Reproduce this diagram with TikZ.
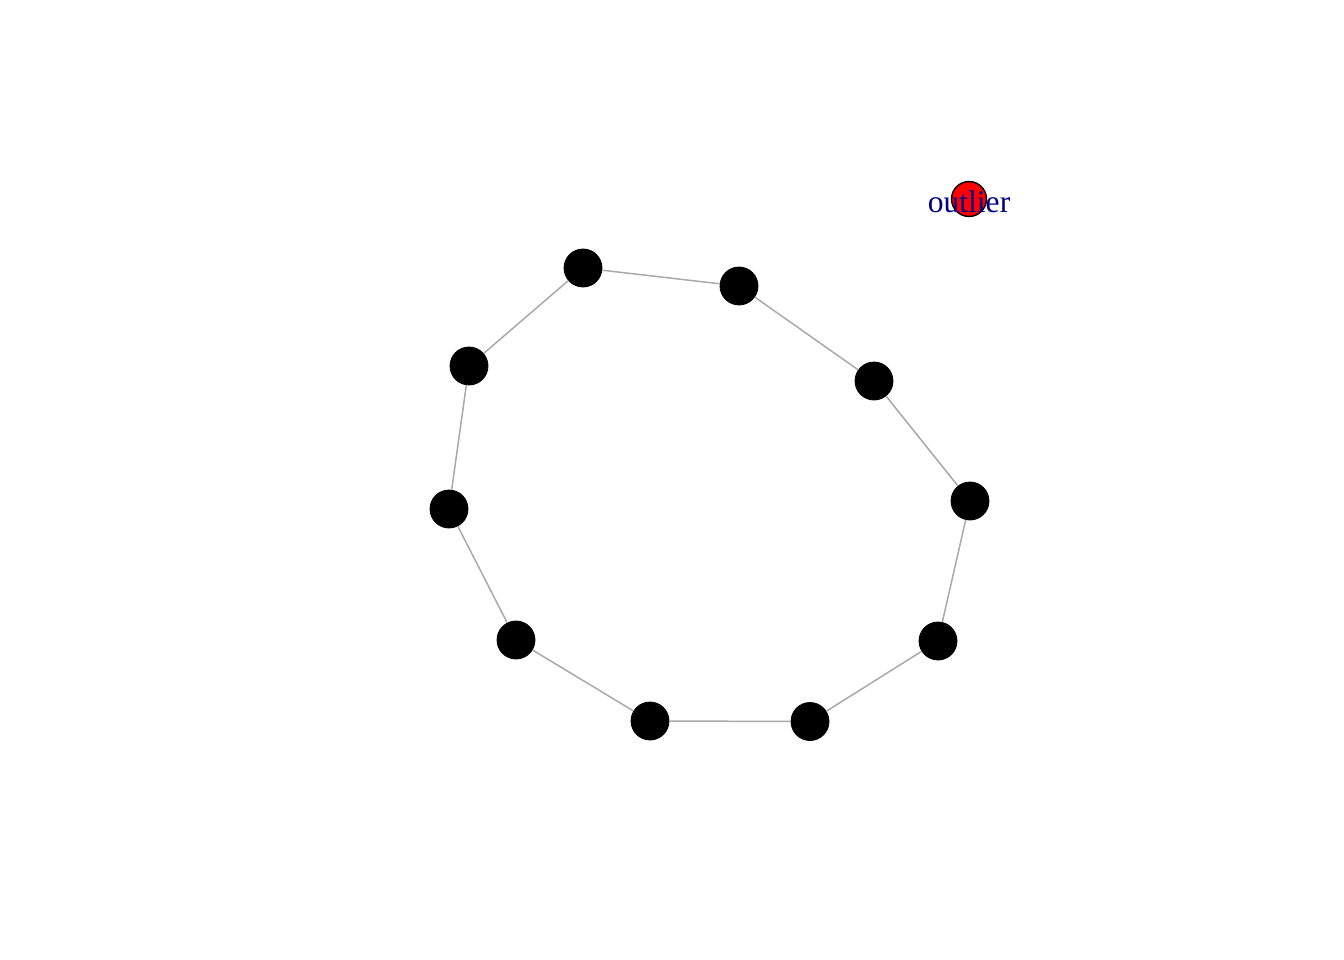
\documentclass[tikz,border=0pt]{standalone}
\usepackage{fontspec}
\setmainfont{Liberation Serif}
\definecolor{edgegray}{HTML}{A9A9A9}
\definecolor{labelblue}{HTML}{00008B}
\begin{document}
\begin{tikzpicture}[x=1pt,y=-1pt,
  vtx/.style={circle,fill=black,draw=black,line width=0.8pt,minimum size=38pt,inner sep=0pt},
  outl/.style={circle,fill=red,draw=black,line width=1.4pt,minimum size=35pt,inner sep=0pt},
  edg/.style={draw=edgegray,line width=1.5pt}]
\useasboundingbox (0,0) rectangle (1344,960);
\node[vtx] (n1) at (583,268) {};
\node[vtx] (n2) at (739,286) {};
\node[vtx] (n3) at (874,381) {};
\node[vtx] (n4) at (970,501) {};
\node[vtx] (n5) at (938,641) {};
\node[vtx] (n6) at (810,721.5) {};
\node[vtx] (n7) at (650,721) {};
\node[vtx] (n8) at (516,640) {};
\node[vtx] (n9) at (449,509) {};
\node[vtx] (n10) at (469,366) {};
\node[outl] (out) at (969,199) {};
\node[text=labelblue,font=\fontsize{31.6}{31.6}\selectfont,inner sep=0pt] (outlbl) at (969,202) {outlier};
\path[edg] (n1) -- (n2) (n2) -- (n3) (n3) -- (n4) (n4) -- (n5) (n5) -- (n6)
  (n6) -- (n7) (n7) -- (n8) (n8) -- (n9) (n9) -- (n10) (n10) -- (n1);
\end{tikzpicture}
\end{document}
